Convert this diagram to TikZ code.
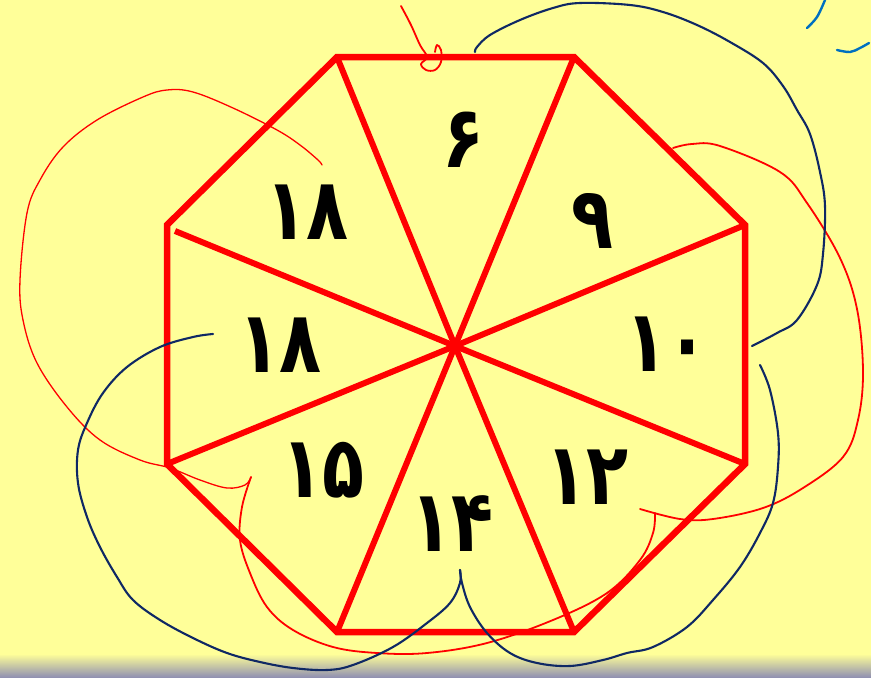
\documentclass[tikz,border=0pt]{standalone}
\usepackage{fontspec}
\newfontfamily\arabicfont[Script=Arabic]{DejaVu Sans}
\definecolor{bgyellow}{RGB}{255,255,153}
\definecolor{bottomgrey}{RGB}{140,140,178}
\definecolor{penblue}{RGB}{15,40,100}
\definecolor{lightpen}{RGB}{0,112,192}
\definecolor{penred}{RGB}{255,0,0}
\tikzset{
  octline/.style={draw=penred, line width=6.5pt, line join=miter},
  spoke/.style={draw=penred, line width=6pt},
  numlabel/.style={font=\arabicfont\bfseries\fontsize{86}{86}\selectfont, text=black, inner sep=0pt, xscale=0.8},
  redpen/.style={draw=penred, line width=1.8pt, line cap=round, line join=round},
  redthin/.style={draw=penred, line width=1.3pt, line cap=round, line join=round},
  bluepen/.style={draw=penblue, line width=2.1pt, line cap=round, line join=round},
  lightbluepen/.style={draw=lightpen, line width=2.4pt, line cap=round},
}
\begin{document}
\begin{tikzpicture}[x=1pt, y=-1pt]
\useasboundingbox (0,0) rectangle (871,678);
\fill[bgyellow] (0,0) rectangle (871,678);
\shade[top color=bgyellow, bottom color=bottomgrey] (0,654) rectangle (871,678);

% octagon vertices
\coordinate (TL) at (337,57);
\coordinate (TR) at (574,57);
\coordinate (RT) at (745,225);
\coordinate (RB) at (745,464);
\coordinate (BR) at (574,632);
\coordinate (BL) at (337,632);
\coordinate (LB) at (167,464);
\coordinate (LT) at (167,225);
\coordinate (C) at (455,346);
\coordinate (LTs) at (175,231);

% spokes
\foreach \v in {TL,TR,RT,RB,BR,BL,LB,LTs} \draw[spoke] (C) -- (\v);
\draw[octline] (TL) -- (TR) -- (RT) -- (RB) -- (BR) -- (BL) -- (LB) -- (LT) -- cycle;

% numbers
\node[numlabel] (n6)  at (463,140) {۶};
\node[numlabel] (n9)  at (592,221) {۹};
\node[numlabel] (n10) at (667,344) {۱۰};
\node[numlabel] (n12) at (587,477) {۱۲};
\node[numlabel] (n14) at (452,524) {۱۴};
\node[numlabel] (n15) at (323,470) {۱۵};
\node[numlabel] (n18a) at (280,345) {۱۸};
\node[numlabel] (n18b) at (307,212) {۱۸};

% red hand strokes
\draw[redpen] plot[smooth, tension=0.6] coordinates {(401,6) (411,25) (420,45) (427,57) (421,64) (426,70) (435,70) (441,62) (441,50) (437,45) (435,52)};
\draw[redthin] plot[smooth, tension=0.6] coordinates {(322,165) (318,160) (300,145) (277,130) (233,108) (193,92) (167,90) (143,97) (97,120) (63,147) (40,180) (27,213) (20,280) (23,320) (37,363) (67,407) (100,440) (140,460) (170,468) (200,480) (227,488) (245,485) (251,477)};
\draw[redpen] plot[smooth, tension=0.6] coordinates {(251,477) (242,507) (240,540) (250,573) (267,607) (293,630) (333,647) (377,653) (427,653) (487,643) (553,620) (607,593) (640,560) (653,533) (655,513)};
\draw[redpen] plot[smooth, tension=0.6] coordinates {(640,509) (680,519) (713,519) (763,508) (803,488) (843,457) (858,420) (863,371) (857,309) (840,258) (807,203) (780,172) (720,146) (692,144) (673,148)};

% blue hand strokes
\draw[bluepen] plot[smooth, tension=0.6] coordinates {(475,52) (477,47) (490,35) (520,20) (553,8) (580,3) (630,5) (663,12) (697,25) (730,42) (763,63) (783,86) (797,110) (810,134) (820,172) (825,206) (823,254) (817,285) (797,320) (777,333) (752,346)};
\draw[bluepen] plot[smooth, tension=0.6] coordinates {(760,365) (770,390) (778,433) (778,467) (773,503) (760,533) (740,567) (713,600) (687,627) (653,647) (627,653) (603,660) (570,666) (537,663) (510,653) (487,633) (470,607) (462,583) (460,570)};
\draw[bluepen] plot[smooth, tension=0.6] coordinates {(460,570) (460,583) (450,603) (427,623) (393,647) (353,665) (327,670) (293,668) (260,662) (227,653) (193,638) (160,620) (133,600) (117,577) (100,547) (87,517) (78,483) (78,450) (87,423) (103,393) (127,367) (160,347) (193,337) (213,334)};

% light blue marks
\draw[lightbluepen] plot[smooth, tension=0.6] coordinates {(825,0) (817,17) (807,28)};
\draw[lightbluepen] plot[smooth, tension=0.6] coordinates {(837,50) (850,52) (860,48) (869,43)};
\end{tikzpicture}
\end{document}
